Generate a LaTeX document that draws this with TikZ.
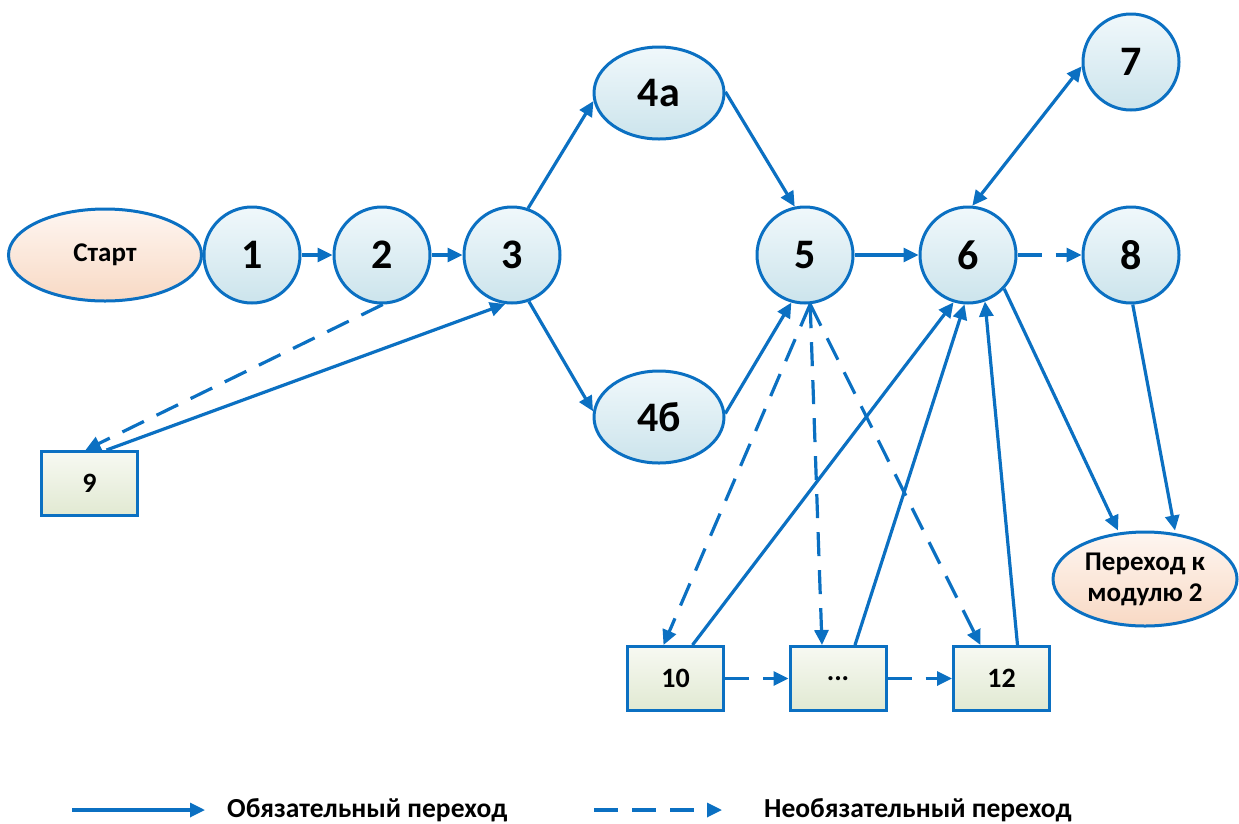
\documentclass[tikz,border=0pt]{standalone}
\usepackage{fontspec}
\setmainfont{Carlito}
\usetikzlibrary{shapes.geometric,arrows.meta}

\definecolor{edge}{HTML}{0B70C2}
\definecolor{stateTop}{HTML}{F0F8FB}
\definecolor{stateBot}{HTML}{CCE4EC}
\definecolor{termTop}{HTML}{FEF6F1}
\definecolor{termBot}{HTML}{F8D9C4}
\definecolor{taskTop}{HTML}{F7F9F2}
\definecolor{taskBot}{HTML}{E1E9D2}

\tikzset{
  state/.style={circle, draw=edge, line width=3pt, minimum size=96pt, inner sep=0pt,
    top color=stateTop, bottom color=stateBot, font=\fontsize{42}{46}\selectfont\bfseries},
  oval/.style={ellipse, draw=edge, line width=3pt, minimum width=130pt, minimum height=92pt,
    inner sep=0pt, top color=stateTop, bottom color=stateBot, font=\fontsize{42}{46}\selectfont\bfseries},
  term/.style={ellipse, draw=edge, line width=3pt, inner sep=0pt,
    top color=termTop, bottom color=termBot, font=\fontsize{27}{31}\selectfont\bfseries, align=center},
  task/.style={rectangle, draw=edge, line width=3pt, minimum width=96pt, minimum height=64pt,
    inner sep=0pt, top color=taskTop, bottom color=taskBot, font=\fontsize{28}{32}\selectfont\bfseries},
  must/.style={draw=edge, line width=3.2pt, -{Triangle[length=15pt,width=14pt]}},
  may/.style={must, dash pattern=on 24pt off 14pt},
  legendtext/.style={anchor=west, inner sep=0pt, font=\fontsize{27.5}{31}\selectfont\bfseries}
}

\begin{document}
\begin{tikzpicture}[x=1pt, y=-1pt]
\useasboundingbox (0,0) rectangle (1239,823);

% states
\node[term, minimum width=193pt, minimum height=92pt] (start) at (105,255) {Старт};
\node[state] (n1) at (252,255) {1};
\node[state] (n2) at (382,255) {2};
\node[state] (n3) at (512,255) {3};
\node[oval] (n4a) at (659,93) {4а};
\node[oval] (n4b) at (659,417) {4б};
\node[state] (n5) at (805,255) {5};
\node[state] (n6) at (968,255) {6};
\node[state] (n7) at (1131,62) {7};
\node[state] (n8) at (1131,255) {8};
\node[term, minimum width=184pt, minimum height=94pt] (next) at (1145,579) {Переход к\\модулю 2};

% tasks
\node[task] (t9) at (89.5,483.5) {9};
\node[task] (t10) at (675.5,678.5) {10};
\node[task] (tdots) at (838,678.5) {...};
\node[task] (t12) at (1001.5,678.5) {12};

% mandatory transitions
\draw[must] (n1) -- (n2);
\draw[must] (n2) -- (n3);
\draw[must] (n3.71) -- (n4a.187);
\draw[must] (n3.-70) -- (n4b.175);
\draw[must] (n4a.1) -- (n5.102);
\draw[must] (n4b.3) -- (n5.-106);
\draw[must] (n5) -- (n6);
\draw[must, {Triangle[length=15pt,width=14pt]}-{Triangle[length=15pt,width=14pt]}] (n6.85) -- (n7.185);
\draw[must] ([xshift=17pt]t9.north) -- (n3.-98);
\draw[must] ([xshift=17pt]t10.north) -- (n6.-107);
\draw[must] ([xshift=17pt]tdots.north) -- (n6.-94);
\draw[must] ([xshift=16pt]t12.north) -- (n6.-70);
\draw[must] (n6.-43) -- ([xshift=-27pt]next.north);
\draw[must] (n8.-88) -- ([xshift=30pt]next.north);

% optional transitions
\draw[may] (n6) -- (n8);
\draw[may] (n2.-89) -- ([xshift=-4pt]t9.north);
\draw[may] (n5.-84) -- ([xshift=-12pt]t10.north);
\draw[may] (n5.-84) -- ([xshift=-16pt]tdots.north);
\draw[may] (n5.-84) -- ([xshift=-21pt]t12.north);
\draw[may] (t10) -- (tdots);
\draw[may] (tdots) -- (t12);

% legend
\coordinate (la) at (72,810);
\coordinate (lb) at (205,810);
\coordinate (lc) at (594,810);
\coordinate (ld) at (722,810);
\draw[must] (la) -- (lb);
\draw[may] (lc) -- (ld);
\node[legendtext] (lt1) at (227,810) {Обязательный переход};
\node[legendtext] (lt2) at (764,810) {Необязательный переход};
\end{tikzpicture}
\end{document}
